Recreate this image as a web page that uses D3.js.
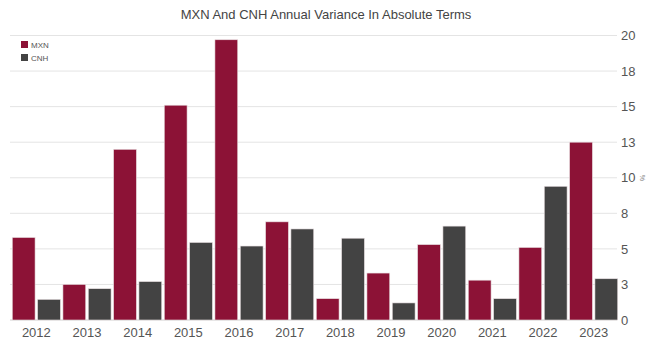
<!DOCTYPE html>
<html>
<head>
<meta charset="utf-8">
<script src="https://d3js.org/d3.v7.min.js"></script>
<style>
body { margin: 0; background: #fff; font-family: 'Liberation Sans', Arial, sans-serif; }
svg { display: block; }
</style>
</head>
<body>
<div id="chart"></div>
<script>
// data
var years = ["2012","2013","2014","2015","2016","2017","2018","2019","2020","2021","2022","2023"];
var seriesNames = ["MXN", "CNH"];
var mxn = [5.8, 2.5, 12.0, 15.1, 19.7, 6.9, 1.5, 3.3, 5.3, 2.8, 5.1, 12.5];
var cnh = [1.45, 2.2, 2.7, 5.45, 5.2, 6.4, 5.75, 1.2, 6.6, 1.5, 9.4, 2.9];
var yTicks = [0, 2.5, 5, 7.5, 10, 12.5, 15, 17.5, 20];
var colors = ["#8c1236", "#434343"];

var W = 652, H = 349;
var svg = d3.select("#chart").append("svg")
  .attr("width", W).attr("height", H);

var x0 = d3.scaleBand().domain(years).range([11, 619]);
var x1 = d3.scaleBand().domain(seriesNames).range([0, x0.bandwidth()])
  .paddingInner(0.1).paddingOuter(0.05);
var y = d3.scaleLinear().domain([0, 20]).range([320, 35.5]);

// title
svg.append("text")
  .attr("x", 326).attr("y", 19)
  .attr("text-anchor", "middle")
  .style("font-size", "13px").style("fill", "#444")
  .text("MXN And CNH Annual Variance In Absolute Terms");

// gridlines
svg.append("g").selectAll("line")
  .data(yTicks)
  .enter().append("line")
  .attr("x1", 10).attr("x2", 617)
  .attr("y1", function(d) { return y(d); })
  .attr("y2", function(d) { return y(d); })
  .style("stroke", function(d) { return d === 0 ? "#cfcfcf" : "#e4e4e4"; })
  .style("stroke-width", 1);

// right axis
var yAxis = d3.axisRight(y).tickValues(yTicks)
  .tickSize(0).tickPadding(4)
  .tickFormat(function(d) { return Math.round(d); });
var ya = svg.append("g").attr("transform", "translate(617,0)").call(yAxis);
ya.select(".domain").remove();
ya.selectAll("text").style("font-size", "13px").style("fill", "#555")
  .style("font-family", "'Liberation Sans', Arial, sans-serif");

svg.append("text")
  .attr("transform", "translate(640," + y(10) + ") rotate(90)")
  .attr("text-anchor", "middle")
  .style("font-size", "7px").style("fill", "#888")
  .text("%");

// bars
var rows = years.map(function(yr, i) { return {year: yr, vals: [mxn[i], cnh[i]]}; });
var groups = svg.append("g").selectAll("g")
  .data(rows)
  .enter().append("g")
  .attr("transform", function(d) { return "translate(" + x0(d.year) + ",0)"; });

groups.selectAll("rect")
  .data(function(d) { return d.vals.map(function(v, j) { return {name: seriesNames[j], value: v, j: j}; }); })
  .enter().append("rect")
  .attr("x", function(d) { return x1(d.name); })
  .attr("width", x1.bandwidth())
  .attr("y", function(d) { return y(d.value); })
  .attr("height", function(d) { return y(0) - y(d.value); })
  .style("fill", function(d) { return colors[d.j]; })
  .style("stroke", "#e8dfe2").style("stroke-width", 0.6);

// x labels
var xa = svg.append("g").attr("transform", "translate(0,320)")
  .call(d3.axisBottom(x0).tickSize(0).tickPadding(8));
xa.select(".domain").remove();
xa.selectAll("text").style("font-size", "13px").style("fill", "#555")
  .style("font-family", "'Liberation Sans', Arial, sans-serif");

// legend
var leg = svg.append("g").selectAll("g")
  .data(seriesNames)
  .enter().append("g")
  .attr("transform", function(d, i) { return "translate(21," + (41 + i * 13) + ")"; });
leg.append("rect").attr("width", 7).attr("height", 7)
  .style("fill", function(d, i) { return colors[i]; });
leg.append("text").attr("x", 10).attr("y", 6.5)
  .style("font-size", "8px").style("fill", "#555")
  .text(function(d) { return d; });
</script>
</body>
</html>
